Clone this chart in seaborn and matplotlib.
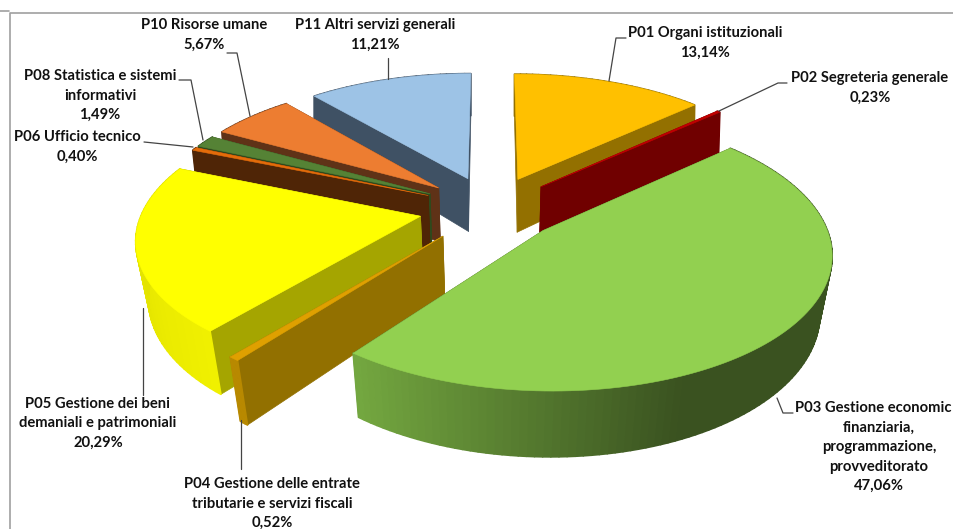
import numpy as np
import matplotlib
matplotlib.use("Agg")
import matplotlib.pyplot as plt
from matplotlib.collections import PolyCollection
from matplotlib.colors import to_rgb
import seaborn as sns

# Data
categories = ["P01 Organi istituzionali", "P02 Segreteria generale",
              "P03 Gestione economic\nfinanziaria,\nprogrammazione,\nprovveditorato",
              "P04 Gestione delle entrate\ntributarie e servizi fiscali",
              "P05 Gestione dei beni\ndemaniali e patrimoniali",
              "P06 Ufficio tecnico", "P08 Statistica e sistemi\ninformativi",
              "P10 Risorse umane", "P11 Altri servizi generali"]
values = [13.14, 0.23, 47.06, 0.52, 20.29, 0.40, 1.49, 5.67, 11.21]

# Colours: top face, cut face, outer wall at start and end of the arc
top_colors = sns.color_palette(["#FFC000", "#C00000", "#92D050", "#DFA000", "#FFFF00",
                                "#E46C0A", "#558235", "#ED7D31", "#9DC3E6"])
cut_colors = ["#937000", "#700000", "#3C5420", "#927000", "#A5A500",
              "#4F2506", "#2E4A1D", "#5F3217", "#3F5164"]
wall_colors = [("#937000", "#937000"), ("#700000", "#700000"), ("#3A5220", "#74A840"),
               ("#B88900", "#B88900"), ("#F0F000", "#DADA00"), ("#4F2506", "#4F2506"),
               ("#2E4A1D", "#2E4A1D"), ("#5F3217", "#5F3217"), ("#3F5164", "#3F5164")]
explode = [0.25, 0.25, 0.25, 0.27, 0.26, 0.25, 0.25, 0.25, 0.25]
draw_order = [8, 0, 7, 6, 5, 1, 4, 3, 2]

# Label layout in pixels: centre x, first line y, leader path
label_pos = [(705, 33), (870, 78), (879, 408), (272, 484), (98, 404),
             (77, 137), (100, 76), (204, 25), (375, 25)]
leaders = [[(626, 38), (616, 38), (609, 81)],
           [(787, 83), (778, 83), (719, 111)],
           [(793, 413), (783, 413), (777, 398)],
           [(241, 469), (241, 420)],
           [(143, 395), (143, 308)],
           [(144, 142), (193, 147)],
           [(179, 80), (191, 80), (203, 140)],
           [(227, 53), (237, 53), (250, 116)],
           [(388, 58), (388, 79)]]

# Projection of the tilted disc onto the picture
CX, CY = 491, 208
A, B = 277, 129
PERSP = 0.15
DEPTH = 56


def project(u, v):
    s = 1 / (1 - PERSP * v)
    return CX + A * u * s, CY + B * v * s


def project_base(u, v):
    # The underside lies further from the camera, so it draws narrower towards the front
    s = 1 / (1 - PERSP * v)
    drop = DEPTH * np.interp(v, [-1, 0, 1.2], [0.75, 1, 1.18])
    shrink = np.interp(v, [-1, 0, 1.2], [1.0, 0.965, 0.96])
    return CX + A * u * s * shrink, CY + B * v * s + drop


sns.set_theme(style="white")
plt.rcParams["font.family"] = ["Lato", "DejaVu Sans"]

fig, ax = plt.subplots(figsize=(9.54, 5.29), dpi=100)
fig.subplots_adjust(0, 0, 1, 1)
ax.set_xlim(0, 954)
ax.set_ylim(529, 0)
ax.axis("off")

fractions = np.array(values) / sum(values)
edges = np.concatenate([[0], np.cumsum(fractions)]) * 2 * np.pi

for i in draw_order:
    t0, t1 = edges[i], edges[i + 1]
    mid = (t0 + t1) / 2
    u0 = explode[i] * np.sin(mid)
    v0 = -explode[i] * np.cos(mid)
    t = np.linspace(t0, t1, max(int((t1 - t0) * 40), 4))
    u = u0 + np.sin(t)
    v = v0 - np.cos(t)
    xt, yt = project(u, v)
    xb, yb = project_base(u, v)
    xa, ya = project(u0, v0)
    xab, yab = project_base(u0, v0)

    # Cut faces
    faces = [[(xa, ya), (xt[-1], yt[-1]), (xb[-1], yb[-1]), (xab, yab)],
             [(xa, ya), (xt[0], yt[0]), (xb[0], yb[0]), (xab, yab)]]
    ax.add_collection(PolyCollection(faces, facecolors=cut_colors[i], edgecolors=cut_colors[i],
                                     linewidths=0.5, zorder=2))

    # Outer wall in strips, shaded along the arc
    c0, c1 = np.array(to_rgb(wall_colors[i][0])), np.array(to_rgb(wall_colors[i][1]))
    if i == 2:
        dark, light = np.sin(np.radians(156)), np.sin(np.radians(217))
        ramp = np.clip((dark - np.sin(t)) / (dark - light), 0, 1)
    else:
        ramp = np.linspace(0, 1, len(t))
    strips, strip_colors = [], []
    for k in range(len(t) - 1):
        strips.append([(xt[k], yt[k]), (xt[k + 1], yt[k + 1]), (xb[k + 1], yb[k + 1]), (xb[k], yb[k])])
        strip_colors.append(c0 + (c1 - c0) * ramp[k])
    ax.add_collection(PolyCollection(strips, facecolors=strip_colors, edgecolors=strip_colors,
                                     linewidths=1.2, zorder=2))

    # Top face
    ax.fill(np.r_[xa, xt], np.r_[ya, yt], color=top_colors[i], lw=0.4, zorder=2)

# Labels and leader lines
for i, name in enumerate(categories):
    lines = name.split("\n") + [f"{values[i]:.2f}%".replace(".", ",")]
    x, y = label_pos[i]
    for n, line in enumerate(lines):
        # the long P03 line runs up to the right edge
        lx = x - 6 if line.startswith("P03") else x
        ax.text(lx, y + n * 19.5, line, ha="center", va="center", fontsize=10.6,
                fontweight="bold", color="#111111", zorder=4)
    px, py = zip(*leaders[i])
    ax.plot(px, py, color="#444444", lw=0.9, zorder=3)

# Frame around the chart
ax.plot([10, 10, 954], [529, 12.5, 12.5], color="#A0A0A0", lw=1.2, zorder=1)
ax.plot([0, 9], [11, 11], color="#A0A0A0", lw=1.2, zorder=1)

fig.savefig("out.png", dpi=100)
